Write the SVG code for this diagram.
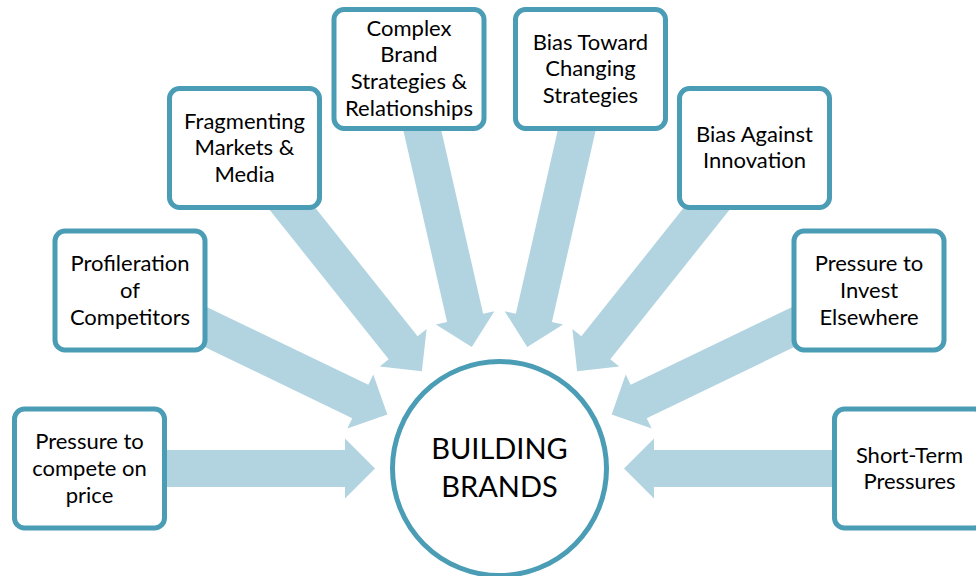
<svg xmlns="http://www.w3.org/2000/svg" width="976" height="576" viewBox="0 0 976 576">
  <defs>
    <style>
      .box { fill: #ffffff; stroke: #4b9db6; stroke-width: 5; }
      .hub { fill: #ffffff; stroke: #4b9db6; stroke-width: 5; }
      .arrow { fill: #b2d4e0; stroke: none; }
      .lbl { font-family: Lato, "Liberation Sans", sans-serif; font-size: 22px; fill: #000000; text-anchor: middle; }
      .hubtxt { font-family: Lato, "Liberation Sans", sans-serif; font-size: 29px; fill: #000000; text-anchor: middle; }
    </style>
    <!-- block arrow pointing at the hub, drawn in hub-centred coordinates -->
    <path id="spoke" d="M-380,-18.5 L-154.5,-18.5 L-154.5,-30 L-124.5,0 L-154.5,30 L-154.5,18.5 L-380,18.5 Z"/>
  </defs>

  <g id="connectors">
    <use href="#spoke" class="arrow" transform="translate(499.5,468.5) rotate(0)"/>
    <use href="#spoke" class="arrow" transform="translate(499.5,468.5) rotate(25.714)"/>
    <use href="#spoke" class="arrow" transform="translate(499.5,468.5) rotate(51.429)"/>
    <use href="#spoke" class="arrow" transform="translate(499.5,468.5) rotate(77.143)"/>
    <use href="#spoke" class="arrow" transform="translate(499.5,468.5) rotate(102.857)"/>
    <use href="#spoke" class="arrow" transform="translate(499.5,468.5) rotate(128.571)"/>
    <use href="#spoke" class="arrow" transform="translate(499.5,468.5) rotate(154.286)"/>
    <use href="#spoke" class="arrow" transform="translate(499.5,468.5) rotate(180)"/>
  </g>

  <g id="hub">
    <circle class="hub" cx="499.5" cy="468.5" r="107"/>
    <text class="hubtxt" x="499.5" y="459">BUILDING</text>
    <text class="hubtxt" x="499.5" y="496.5">BRANDS</text>
  </g>

  <g id="price">
    <rect class="box" x="14.5" y="409" width="150" height="119" rx="10"/>
    <text class="lbl" x="89.5" y="449">Pressure to</text>
    <text class="lbl" x="89.5" y="475.8">compete on</text>
    <text class="lbl" x="89.5" y="502.6">price</text>
  </g>

  <g id="competitors">
    <rect class="box" x="55" y="231" width="150" height="119" rx="10"/>
    <text class="lbl" x="130" y="271">Profileration</text>
    <text class="lbl" x="130" y="297.8">of</text>
    <text class="lbl" x="130" y="324.6">Competitors</text>
  </g>

  <g id="fragmenting">
    <rect class="box" x="169.5" y="88.5" width="150" height="119" rx="10"/>
    <text class="lbl" x="244.5" y="128.6">Fragmenting</text>
    <text class="lbl" x="244.5" y="155.4">Markets &amp;</text>
    <text class="lbl" x="244.5" y="182.2">Media</text>
  </g>

  <g id="complex">
    <rect class="box" x="334" y="9.5" width="150" height="119" rx="10"/>
    <text class="lbl" x="409" y="35.5">Complex</text>
    <text class="lbl" x="409" y="62.3">Brand</text>
    <text class="lbl" x="409" y="89.1">Strategies &amp;</text>
    <text class="lbl" x="409" y="115.9">Relationships</text>
  </g>

  <g id="changing">
    <rect class="box" x="515.5" y="9.5" width="150" height="119" rx="10"/>
    <text class="lbl" x="590.5" y="49.6">Bias Toward</text>
    <text class="lbl" x="590.5" y="76.4">Changing</text>
    <text class="lbl" x="590.5" y="103.2">Strategies</text>
  </g>

  <g id="innovation">
    <rect class="box" x="679.5" y="88.5" width="150" height="119" rx="10"/>
    <text class="lbl" x="754.5" y="141.6">Bias Against</text>
    <text class="lbl" x="754.5" y="168.4">Innovation</text>
  </g>

  <g id="elsewhere">
    <rect class="box" x="794" y="231" width="150" height="119" rx="10"/>
    <text class="lbl" x="869" y="271">Pressure to</text>
    <text class="lbl" x="869" y="297.8">Invest</text>
    <text class="lbl" x="869" y="324.6">Elsewhere</text>
  </g>

  <g id="shortterm">
    <rect class="box" x="834.5" y="409" width="150" height="119" rx="10"/>
    <text class="lbl" x="909.5" y="462.6">Short-Term</text>
    <text class="lbl" x="909.5" y="489.4">Pressures</text>
  </g>
</svg>
